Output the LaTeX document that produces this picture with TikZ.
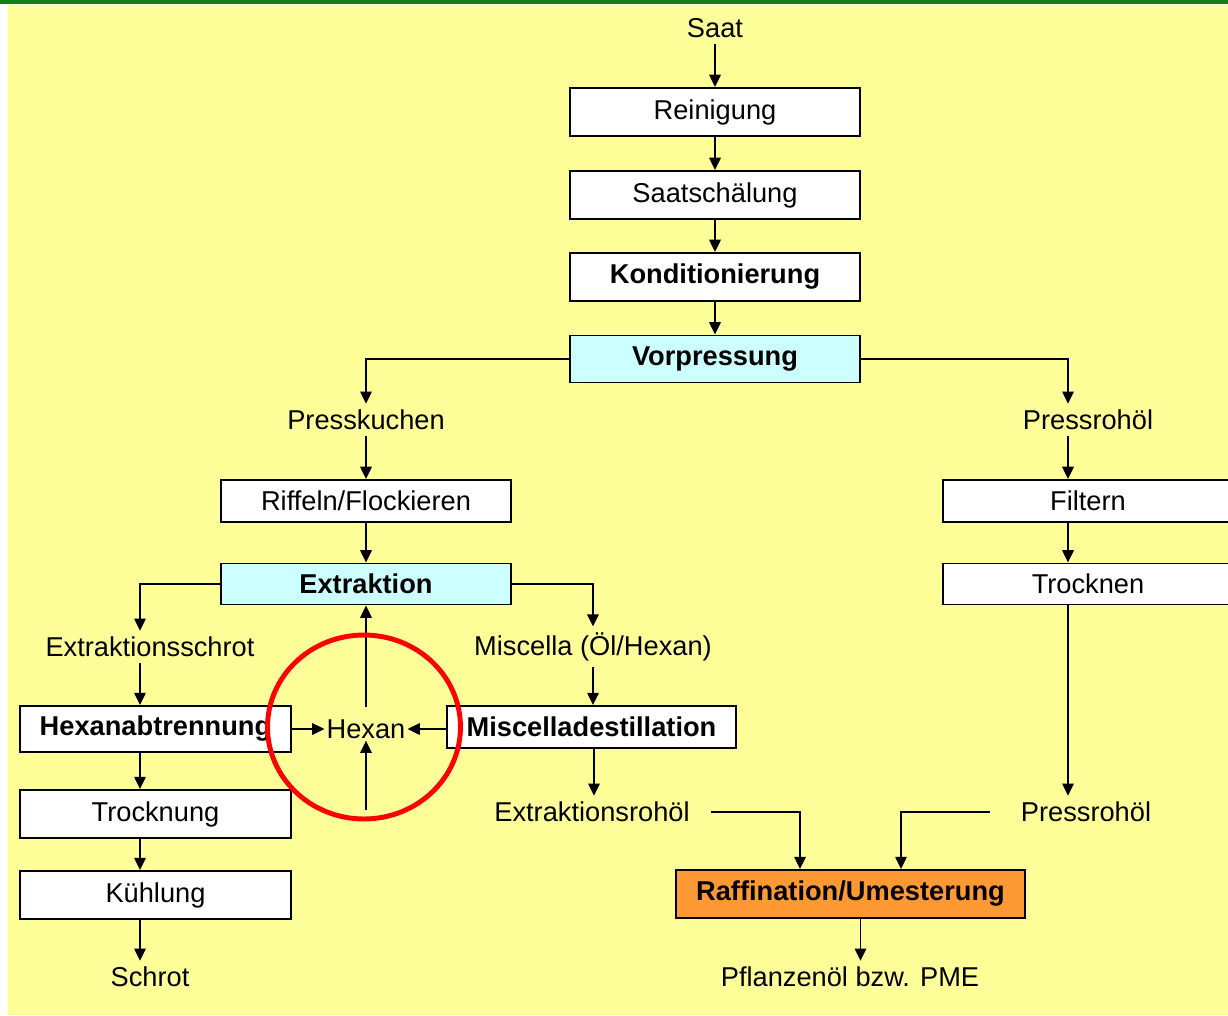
\documentclass[tikz,border=0pt]{standalone}
\usepackage{fontspec}
\setmainfont{Liberation Sans}
\usetikzlibrary{arrows.meta}
\definecolor{bgyellow}{HTML}{FFFF99}
\definecolor{boxcyan}{HTML}{CCFFFF}
\definecolor{boxorange}{HTML}{FF9933}
\definecolor{topgreen}{HTML}{108010}
\begin{document}
\begin{tikzpicture}[x=0.02cm,y=-0.02cm,
  every node/.style={font=\fontsize{15.5}{18}\selectfont},
  box/.style={draw=black,line width=1.1pt,fill=white,minimum width=5.8cm,minimum height=0.96cm,inner sep=0pt},
  boldbox/.style={box,font=\fontsize{15.5}{18}\selectfont\bfseries},
  flow/.style={line width=1.1pt,-{Triangle[length=7pt,width=6.5pt]}}]
\useasboundingbox (0,0) rectangle (1228,1015);
\clip (0,0) rectangle (1228,1015);
% background and top rule
\fill[bgyellow] (8,5) rectangle (1228,1015);
\fill[topgreen] (0,0) rectangle (1228,3.5);
% main line
\node (saat) at (715,28) {Saat};
\node[box] (rein) at (715,112) {Reinigung};
\node[box] (schael) at (715,195) {Saatschälung};
\node[boldbox] (kond) at (715,277) {Konditionierung};
\node[boldbox,fill=boxcyan,minimum height=0.94cm] (vorp) at (715,359) {Vorpressung};
% press cake branch
\node (kuchen) at (366,420) {Presskuchen};
\node[box,minimum height=0.84cm] (riffeln) at (366,501) {Riffeln/Flockieren};
\node[boldbox,fill=boxcyan,minimum height=0.82cm] (extr) at (366,584) {Extraktion};
\node (eschrot) at (150,647) {Extraktionsschrot};
\node (miscella) at (593,647) {Miscella (Öl/Hexan)};
\node[boldbox,minimum width=5.42cm,minimum height=0.92cm] (hexab) at (155.5,729) {Hexanabtrennung};
\node[inner sep=1pt] (hexan) at (366,729) {Hexan};
\node[boldbox,minimum width=5.78cm,minimum height=0.84cm] (mdest) at (591.5,727) {Miscelladestillation};
\node[box,minimum width=5.42cm] (trocknung) at (155.5,814) {Trocknung};
\node[box,minimum width=5.42cm] (kuehl) at (155.5,895) {Kühlung};
\node (schrot) at (150,977) {Schrot};
\node (erohoel) at (592,812) {Extraktionsrohöl};
% press oil branch
\node (pressoel) at (1088,420) {Pressrohöl};
\node[box,minimum height=0.84cm] (filtern) at (1088,501) {Filtern};
\node[box,minimum height=0.82cm] (trocknen) at (1088,584) {Trocknen};
\node (prohoel) at (1086,812) {Pressrohöl};
% refining
\node[boldbox,fill=boxorange,minimum width=6.98cm] (raff) at (850.5,894) {Raffination/Umesterung};
\node (pflanz) at (850,977) {Pflanzenöl bzw. PME};
\coordinate (hexin) at (366,810);
% connectors
\draw[flow] (saat) -- (rein);
\draw[flow] (rein) -- (schael);
\draw[flow] (schael) -- (kond);
\draw[flow] (kond) -- (vorp);
\draw[flow] (vorp.west) -| (kuchen.north);
\draw[flow] (vorp.east) -| ([xshift=-0.4cm]pressoel.north);
\draw[flow] (kuchen) -- (riffeln);
\draw[flow] (riffeln) -- (extr);
\draw[flow] (extr.west) -| ([xshift=-0.2cm]eschrot.north);
\draw[flow] (extr.east) -| (miscella.north);
\draw[flow] ([xshift=-0.2cm]eschrot.south) -- ([xshift=-0.2cm]eschrot.south |- hexab.north);
\draw[flow] (miscella.south) -- (miscella.south |- mdest.north);
\draw[flow] (hexab.east |- hexan.west) -- (hexan.west);
\draw[flow] (mdest.west |- hexan.east) -- (hexan.east);
\draw[flow,shorten <=0.2cm] (hexan.north) -- (extr.south);
\draw[flow] (hexin) -- (hexan.south);
\draw[flow] ([xshift=-0.31cm]hexab.south) -- ([xshift=-0.31cm]trocknung.north);
\draw[flow] ([xshift=-0.31cm]trocknung.south) -- ([xshift=-0.31cm]kuehl.north);
\draw[flow] ([xshift=-0.31cm]kuehl.south) -- ([xshift=-0.31cm]kuehl.south |- schrot.north);
\draw[flow] ([xshift=0.05cm]mdest.south) -- ([xshift=0.05cm]mdest.south |- erohoel.north);
\draw[flow] ([xshift=-0.4cm]pressoel.south) -- ([xshift=-0.4cm]filtern.north);
\draw[flow] ([xshift=-0.4cm]filtern.south) -- ([xshift=-0.4cm]trocknen.north);
\draw[flow] ([xshift=-0.4cm]trocknen.south) -- ([xshift=-0.4cm]trocknen.south |- prohoel.north);
\draw[flow] ([xshift=0.3cm]erohoel.east) -| ([xshift=-1.01cm]raff.north);
\draw[flow] ([xshift=-0.5cm]prohoel.west) -| ([xshift=1.01cm]raff.north);
\draw[flow] ([xshift=0.2cm]raff.south) -- ([xshift=0.2cm]raff.south |- pflanz.north);
% highlight
\draw[red,line width=2.8pt] (364,727) ellipse [x radius=1.93cm,y radius=1.84cm];
\end{tikzpicture}
\end{document}
